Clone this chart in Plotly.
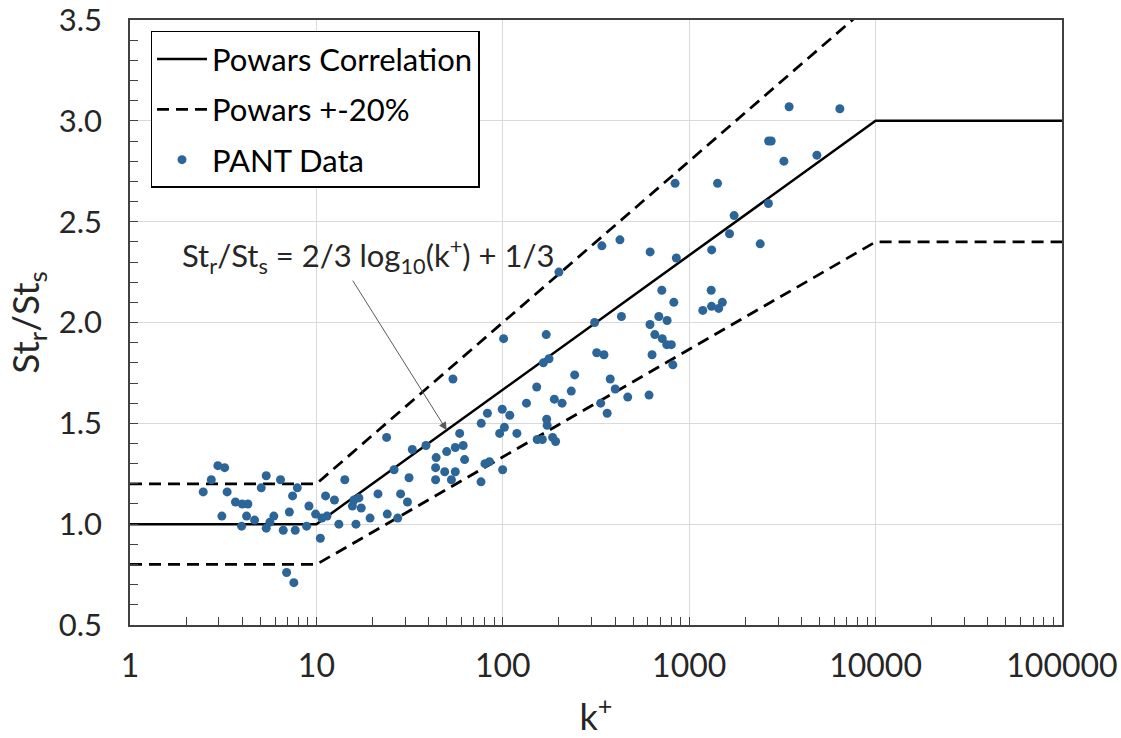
import plotly.graph_objects as go

# ---- data ----
pant_k = [2.47, 2.73, 2.96, 3.22, 3.11, 3.32, 3.68, 4.00, 4.29, 4.22,
          3.97, 4.66, 5.06, 5.38, 5.38, 5.63, 5.91, 6.42, 6.64, 7.16,
          7.45, 7.90, 7.70, 6.92, 7.57, 8.86, 9.12, 9.90, 10.5, 10.7,
          11.2, 11.4, 12.5, 13.2, 14.2, 15.6, 15.9, 16.9, 17.4, 16.3,
          19.4, 21.4, 24.0, 23.8, 26.1, 27.3, 28.3, 30.8, 31.4, 32.7,
          38.7, 43.9, 43.6, 43.6, 48.8, 50.0, 53.0, 55.6, 55.6, 58.7,
          61.3, 62.4, 76.4, 76.6, 80.2, 84.8, 82.7, 96.2, 99.3, 102,
          99.8, 109, 119, 54.0, 101, 134, 152, 153, 163, 172,
          173, 185, 192, 165, 177, 171, 189, 208, 233, 243,
          200, 311, 319, 349, 340, 425, 433, 377, 401, 335,
          363, 468, 609, 617, 616, 632, 654, 687, 713, 761,
          717, 758, 802, 817, 827, 853, 840, 1419, 1742, 1645,
          1320, 2404, 2660, 3221, 1312, 1183, 1318, 1439, 1506, 3436,
          6430, 2667, 2754, 4842]
pant_st = [1.16, 1.22, 1.29, 1.28, 1.04, 1.16, 1.11, 1.10, 1.10, 1.04,
           0.99, 1.02, 1.18, 1.24, 0.98, 1.01, 1.04, 1.22, 0.97, 1.06,
           1.14, 1.18, 0.97, 0.76, 0.71, 0.99, 1.09, 1.05, 0.93, 1.03,
           1.14, 1.04, 1.12, 1.00, 1.22, 1.09, 1.12, 1.13, 1.08, 1.00,
           1.03, 1.15, 1.05, 1.43, 1.27, 1.03, 1.15, 1.11, 1.23, 1.37,
           1.39, 1.33, 1.28, 1.22, 1.26, 1.36, 1.22, 1.26, 1.38, 1.45,
           1.39, 1.32, 1.21, 1.50, 1.30, 1.31, 1.55, 1.45, 1.57, 1.48,
           1.27, 1.54, 1.45, 1.72, 1.92, 1.60, 1.68, 1.42, 1.42, 1.52,
           1.49, 1.43, 1.41, 1.80, 1.82, 1.94, 1.62, 1.60, 1.66, 1.74,
           2.25, 2.00, 1.85, 1.84, 2.38, 2.41, 2.03, 1.72, 1.67, 1.60,
           1.55, 1.63, 1.64, 2.35, 1.99, 1.84, 1.94, 2.03, 2.16, 2.01,
           1.92, 1.89, 1.89, 1.79, 2.10, 2.32, 2.69, 2.69, 2.53, 2.44,
           2.36, 2.39, 2.59, 2.80, 2.16, 2.06, 2.08, 2.07, 2.10, 3.07,
           3.06, 2.90, 2.90, 2.83]

powars_k = [1, 10, 10000, 100000]
powars_st = [1.0, 1.0, 3.0, 3.0]
upper_st = [1.2, 1.2, 3.6, 3.6]
lower_st = [0.8, 0.8, 2.4, 2.4]

x_tickvals = [1, 10, 100, 1000, 10000, 100000]
x_ticktext = ["1", "10", "100", "1000", "10000", "100000"]
y_tickvals = [0.5, 1.0, 1.5, 2.0, 2.5, 3.0, 3.5]
y_ticktext = ["0.5", "1.0", "1.5", "2.0", "2.5", "3.0", "3.5"]

FONT = "Lato"
TXT = "#262626"

fig = go.Figure()
fig.add_trace(go.Scatter(
    x=powars_k, y=powars_st, mode="lines", name="Powars Correlation",
    line=dict(color="black", width=2.5), legendgroup="a"))
fig.add_trace(go.Scatter(
    x=powars_k + [None] + powars_k, y=upper_st + [None] + lower_st,
    mode="lines", name="Powars +-20%",
    line=dict(color="black", width=2.75, dash="12px,7px"), legendgroup="b"))
fig.add_trace(go.Scatter(
    x=pant_k, y=pant_st, mode="markers", name="PANT Data",
    marker=dict(color="#2c6597", size=9), legendgroup="c"))

fig.add_annotation(
    x=1.275, y=2.33, xref="x", yref="y",
    text="St<sub>r</sub>/St<sub>s</sub> = 2/3 log<sub>10</sub>(k<sup>+</sup>) + 1/3",
    showarrow=False, font=dict(family=FONT, size=31, color=TXT))
fig.add_annotation(
    x=1.699, y=1.466, xref="x", yref="y",
    ax=1.19, ay=2.215, axref="x", ayref="y",
    text="", showarrow=True, arrowhead=2, arrowsize=1.6, arrowwidth=1,
    arrowcolor="#595959")

fig.update_layout(
    width=1121, height=738,
    margin=dict(l=130, r=59, t=20, b=113),
    paper_bgcolor="white", plot_bgcolor="white",
    font=dict(family=FONT, size=31, color=TXT),
    showlegend=True,
    legend=dict(x=0.022, y=0.982, xanchor="left", yanchor="top",
                bgcolor="white", bordercolor="black", borderwidth=1.5,
                font=dict(family=FONT, size=31, color="black"),
                tracegroupgap=7, itemwidth=50),
    xaxis=dict(
        type="log", range=[0, 5], automargin=False,
        tickvals=x_tickvals, ticktext=x_ticktext,
        ticks="inside", ticklen=8, tickcolor="#404040", tickwidth=1,
        showline=True, linecolor="#404040", linewidth=1.5, mirror=True,
        showgrid=True, gridcolor="#d9d9d9", gridwidth=1,
        zeroline=False, ticklabelstandoff=12, ticklabeloverflow="allow",
        minor=dict(ticks="inside", ticklen=8, tickcolor="#404040",
                   dtick="D1", showgrid=False),
        tickfont=dict(family=FONT, size=32, color=TXT),
        title=dict(text="k<sup>+</sup>", standoff=26,
                   font=dict(family=FONT, size=36, color=TXT)),
    ),
    yaxis=dict(
        range=[0.4999, 3.5001], automargin=False,
        tickvals=y_tickvals, ticktext=y_ticktext,
        ticks="inside", ticklen=8, tickcolor="#404040", tickwidth=1,
        showline=True, linecolor="#404040", linewidth=1.5, mirror=True,
        showgrid=True, gridcolor="#d9d9d9", gridwidth=1,
        zeroline=False, ticklabelstandoff=20, ticklabeloverflow="allow",
        minor=dict(ticks="inside", ticklen=8, tickcolor="#404040",
                   dtick=0.1, showgrid=False),
        tickfont=dict(family=FONT, size=31, color=TXT),
        title=dict(text="St<sub>r</sub>/St<sub>s</sub>", standoff=8,
                   font=dict(family=FONT, size=37, color=TXT)),
    ),
)

fig.write_html("out.html")
